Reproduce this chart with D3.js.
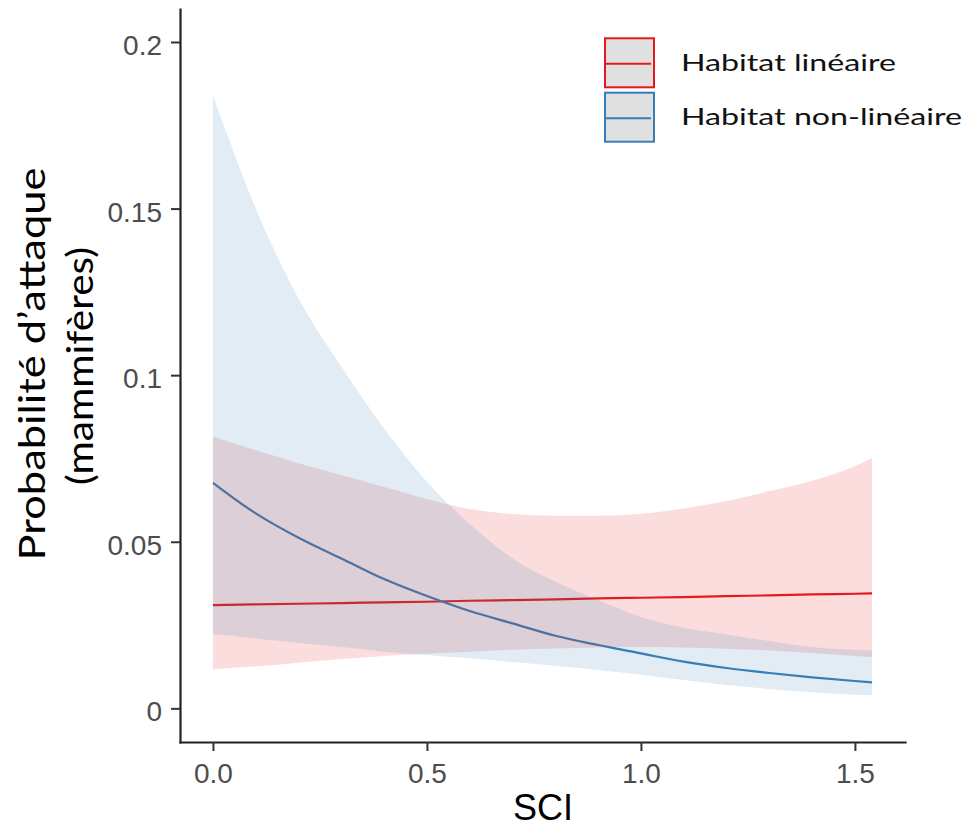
<!DOCTYPE html>
<html>
<head>
<meta charset="utf-8">
<script src="https://cdn.jsdelivr.net/npm/d3@7"></script>
<style>
  html, body { margin: 0; padding: 0; background: #fff; }
  svg { display: block; }
</style>
</head>
<body>
<svg id="chart" width="966" height="829"></svg>
<script>
// SCI values at which the model predictions were evaluated
const sci = [0, 0.1, 0.2, 0.3, 0.4, 0.5, 0.6, 0.7, 0.8, 0.9, 1.0, 1.1, 1.2, 1.3, 1.4, 1.5, 1.54];

// Habitat linéaire: fitted probability and confidence band
const linFit  = [0.0310, 0.0312, 0.0314, 0.0316, 0.0318, 0.0320, 0.0323, 0.0325, 0.0327, 0.0330, 0.0332, 0.0334, 0.0337, 0.0339, 0.0342, 0.0344, 0.0345];
const linLow  = [0.0117, 0.0126, 0.0137, 0.0148, 0.0157, 0.0164, 0.0170, 0.0176, 0.0180, 0.0183, 0.0184, 0.0183, 0.0179, 0.0174, 0.0166, 0.0157, 0.0154];
const linHigh = [0.0816, 0.0775, 0.0736, 0.0700, 0.0664, 0.0628, 0.0598, 0.0583, 0.0578, 0.0578, 0.0584, 0.0600, 0.0622, 0.0652, 0.0683, 0.0727, 0.0751];

// Habitat non-linéaire: fitted probability and confidence band
const nonFit  = [0.0677, 0.0585, 0.0512, 0.0450, 0.0388, 0.0337, 0.0292, 0.0255, 0.0218, 0.0190, 0.0165, 0.0140, 0.0121, 0.0106, 0.0093, 0.0082, 0.0078];
const nonLow  = [0.0224, 0.0210, 0.0196, 0.0184, 0.0170, 0.0160, 0.0150, 0.0139, 0.0128, 0.0115, 0.0101, 0.0085, 0.0070, 0.0058, 0.0048, 0.0041, 0.0039];
const nonHigh = [0.184, 0.150, 0.123, 0.1025, 0.084, 0.068, 0.0553, 0.045, 0.038, 0.0325, 0.0274, 0.0242, 0.0222, 0.0202, 0.0184, 0.0176, 0.0174];

const seriesNames  = ["Habitat linéaire", "Habitat non-linéaire"];
const seriesColors = ["#E41A1C", "#377EB8"];

const xTicks = [0, 0.5, 1.0, 1.5];
const yTicks = [0, 0.05, 0.1, 0.15, 0.2];
const xTitle = "SCI";
const yTitle = ["Probabilité d’attaque", "(mammifères)"];

const series = [
  { name: seriesNames[0], color: seriesColors[0], fit: linFit, low: linLow, high: linHigh },
  { name: seriesNames[1], color: seriesColors[1], fit: nonFit, low: nonLow, high: nonHigh }
];

const svg = d3.select("#chart");

const x = d3.scaleLinear().domain([-0.077, 1.617]).range([180, 905]);
const y = d3.scaleLinear().domain([-0.0101, 0.2099]).range([742, 9]);

const rows = s => sci.map((v, i) => ({ x: v, fit: s.fit[i], low: s.low[i], high: s.high[i] }));

const line = d3.line().x(d => x(d.x)).y(d => y(d.fit)).curve(d3.curveMonotoneX);
const area = d3.area().x(d => x(d.x)).y0(d => y(d.low)).y1(d => y(d.high)).curve(d3.curveMonotoneX);

// fitted curves
const plot = svg.append("g");
series.forEach(s => {
  plot.append("path")
    .attr("d", line(rows(s)))
    .attr("fill", "none")
    .attr("stroke", s.color)
    .attr("stroke-width", 2.2);
});
// confidence bands laid over the curves
series.forEach(s => {
  plot.append("path")
    .attr("d", area(rows(s)))
    .attr("fill", s.color)
    .attr("fill-opacity", 0.15)
    .attr("stroke", "none");
});

// axes
const tickFmt = d => d === 0 ? "0" : String(d);
const yAxis = svg.append("g")
  .attr("transform", "translate(180,0)")
  .call(d3.axisLeft(y).tickValues(yTicks).tickFormat(tickFmt).tickSizeInner(9).tickSizeOuter(0).tickPadding(9));
const xAxis = svg.append("g")
  .attr("transform", "translate(0,742)")
  .call(d3.axisBottom(x).tickValues(xTicks).tickFormat(d3.format(".1f")).tickSizeInner(9).tickSizeOuter(0).tickPadding(12));

[yAxis, xAxis].forEach(g => {
  g.select(".domain").attr("stroke", "#222").attr("stroke-width", 2.2).attr("stroke-linecap", "square");
  g.selectAll(".tick line").attr("stroke", "#333").attr("stroke-width", 2);
  g.selectAll(".tick text")
    .attr("fill", "#4d4d4d")
    .style("font-family", "'Liberation Sans', Arial, sans-serif")
    .style("font-size", "28px");
});
yAxis.selectAll(".tick text").attr("dy", "0.45em");

// axis titles
svg.append("text")
  .attr("x", 543).attr("y", 820)
  .attr("text-anchor", "middle")
  .style("font-family", "'Liberation Sans', Arial, sans-serif")
  .style("font-size", "36px")
  .attr("fill", "#000")
  .text(xTitle);

const yTitleBase = [45, 93];
const yTitleLen = [393, 238];
yTitle.forEach((t, i) => {
  svg.append("text")
    .attr("transform", `translate(${yTitleBase[i]},${364 + i * 2}) rotate(-90)`)
    .attr("text-anchor", "middle")
    .attr("textLength", yTitleLen[i])
    .attr("lengthAdjust", "spacingAndGlyphs")
    .style("font-family", "Lato, 'Open Sans', sans-serif")
    .style("font-size", "37px")
    .attr("fill", "#000")
    .text(t);
});

// legend
const legend = svg.append("g");
const keyTop = [38.3, 92.7];
const labelLen = [215, 281];
series.forEach((s, i) => {
  const k = legend.append("g").attr("transform", `translate(605,${keyTop[i]})`);
  k.append("rect")
    .attr("width", 49).attr("height", 49)
    .attr("fill", "#e0e0e0")
    .attr("stroke", s.color)
    .attr("stroke-width", 2);
  k.append("line")
    .attr("x1", 1).attr("x2", 46)
    .attr("y1", 25.5).attr("y2", 25.5)
    .attr("stroke", s.color)
    .attr("stroke-width", 2);
  legend.append("text")
    .attr("x", 681).attr("y", keyTop[i] + 32.5)
    .attr("textLength", labelLen[i])
    .attr("lengthAdjust", "spacingAndGlyphs")
    .style("font-family", "Lato, 'Open Sans', sans-serif")
    .style("font-size", "23px")
    .attr("fill", "#111")
    .text(s.name);
});
</script>
</body>
</html>
